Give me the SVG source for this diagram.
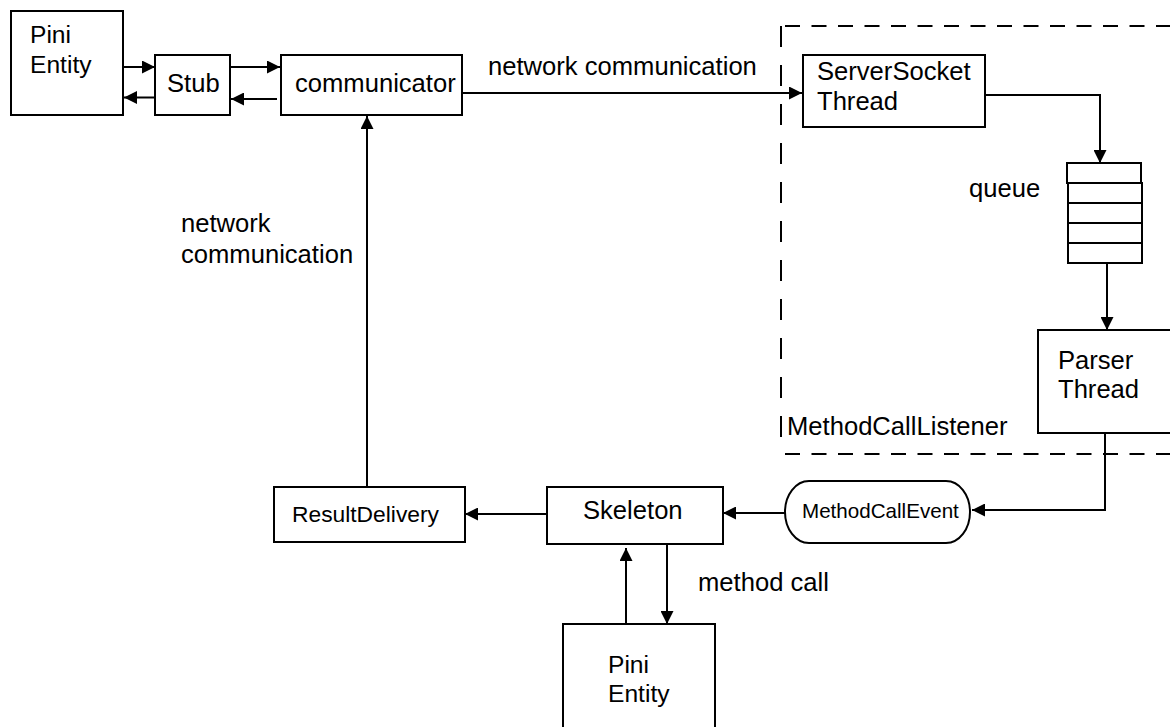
<svg xmlns="http://www.w3.org/2000/svg" width="1170" height="727" viewBox="0 0 1170 727">
<style>
.box{fill:#fff;stroke:#000;stroke-width:2}
.ln{fill:none;stroke:#000;stroke-width:2}
.arr{fill:none;stroke:#000;stroke-width:2;marker-end:url(#ah)}
.dh{fill:none;stroke:#000;stroke-width:2;stroke-dasharray:15 11.5;stroke-dashoffset:-4}
.dv{fill:none;stroke:#000;stroke-width:2;stroke-dasharray:21 18}
text{font-family:"Liberation Sans",Arial,sans-serif;font-size:25.6px;fill:#000}
.sm{font-size:22.8px}
.xs{font-size:20.6px}
.pe{font-size:24.6px}
</style>
<defs>
<marker id="ah" markerUnits="userSpaceOnUse" markerWidth="13" markerHeight="13" refX="13" refY="6.5" orient="auto">
<path d="M0,0 L13,6.5 L0,13 z" fill="#000"/>
</marker>
</defs>
<rect width="1170" height="727" fill="#fff"/>
<g id="method-call-listener">
<path class="dh" d="M781,26 H1170"/>
<path class="dv" d="M781,26 V454"/>
<path class="dh" d="M781,454 H1170"/>
<text x="787" y="435">MethodCallListener</text>
</g>
<g id="connectors">
<path class="arr" d="M123,67 H155"/>
<path class="arr" d="M155,97.5 H124"/>
<path class="arr" d="M230,67 H280"/>
<path class="arr" d="M277,99 H231"/>
<path class="arr" d="M462,93 H802"/>
<path class="arr" d="M985,95 H1100 V163"/>
<path class="arr" d="M1107,263 V330"/>
<path class="arr" d="M1105,433 V510 H972"/>
<path class="arr" d="M785,513 H723"/>
<path class="arr" d="M547,514 H465"/>
<path class="arr" d="M367,487 V116"/>
<path class="arr" d="M626,624 V548"/>
<path class="arr" d="M667,544 V624"/>
<text x="488" y="75">network communication</text>
<text x="181" y="232">network</text>
<text x="181" y="263">communication</text>
<text x="698" y="591">method call</text>
</g>
<g id="pini-entity-top">
<rect class="box" x="11" y="11" width="112" height="104"/>
<text class="pe" x="30" y="43">Pini</text>
<text class="pe" x="30" y="73">Entity</text>
</g>
<g id="stub">
<rect class="box" x="155" y="55" width="75" height="60"/>
<text x="167" y="92">Stub</text>
</g>
<g id="communicator">
<rect class="box" x="281" y="55" width="181" height="60"/>
<text x="295" y="92">communicator</text>
</g>
<g id="server-socket-thread">
<rect class="box" x="803" y="55" width="182" height="72"/>
<text x="817" y="80">ServerSocket</text>
<text x="817" y="110">Thread</text>
</g>
<g id="queue">
<rect class="box" x="1067" y="163" width="74" height="20"/>
<rect class="box" x="1068" y="183" width="74" height="80"/>
<path class="ln" d="M1068,203 H1142 M1068,223 H1142 M1068,243 H1142"/>
<text x="969" y="197">queue</text>
</g>
<g id="parser-thread">
<rect class="box" x="1038" y="330" width="200" height="103"/>
<text x="1058" y="369">Parser</text>
<text x="1058" y="398">Thread</text>
</g>
<g id="method-call-event">
<rect class="box" x="785" y="481" width="185" height="62" rx="24" ry="31"/>
<text class="xs" x="802" y="518">MethodCallEvent</text>
</g>
<g id="skeleton">
<rect class="box" x="547" y="487" width="176" height="57"/>
<text x="583" y="519">Skeleton</text>
</g>
<g id="result-delivery">
<rect class="box" x="274" y="487" width="191" height="55"/>
<text class="sm" x="292" y="522">ResultDelivery</text>
</g>
<g id="pini-entity-bottom">
<rect class="box" x="563" y="624" width="152" height="150"/>
<text class="pe" x="608" y="673">Pini</text>
<text class="pe" x="608" y="702">Entity</text>
</g>
</svg>
